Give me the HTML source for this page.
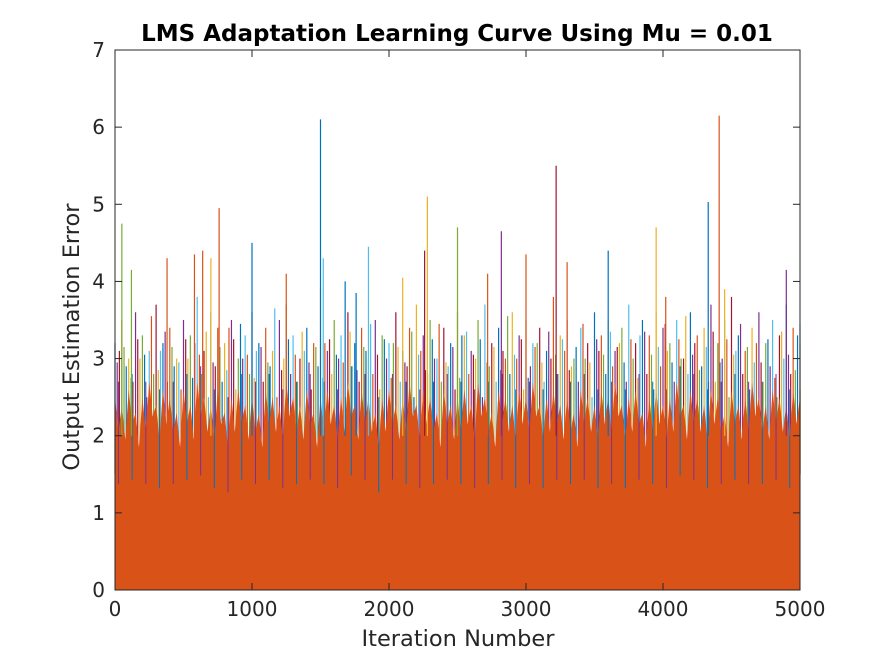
<!DOCTYPE html>
<html><head><meta charset="utf-8"><style>
html,body{margin:0;padding:0;background:#fff;}
svg{display:block;font-family:"DejaVu Sans","Liberation Sans",sans-serif;}
</style></head><body>
<svg id="chart" width="884" height="663" viewBox="0 0 884 663">
<rect x="0" y="0" width="884" height="663" fill="#fff"/>
<rect x="115" y="50" width="685" height="540" fill="#fff"/>
<g id="marks"></g>
<g id="axes"></g>
<text x="457" y="41" text-anchor="middle" font-weight="bold" font-size="23" fill="#000">LMS Adaptation Learning Curve Using Mu = 0.01</text>
<text x="458" y="646" text-anchor="middle" font-size="22.5" fill="#262626">Iteration Number</text>
<text transform="translate(79,337) rotate(-90)" text-anchor="middle" font-size="22.5" fill="#262626">Output Estimation Error</text>
</svg>
<script>
const xTicks=[0,1000,2000,3000,4000,5000];
const yTicks=[0,1,2,3,4,5,6,7];
const baseIter=[0,50,100,150,200,250,300,350,400,450,500,550,600,650,700,750,800,850,900,950,1000,1050,1100,1150,1200,1250,1300,1350,1400,1450,1500,1550,1600,1650,1700,1750,1800,1850,1900,1950,2000,2050,2100,2150,2200,2250,2300,2350,2400,2450,2500,2550,2600,2650,2700,2750,2800,2850,2900,2950,3000,3050,3100,3150,3200,3250,3300,3350,3400,3450,3500,3550,3600,3650,3700,3750,3800,3850,3900,3950,4000,4050,4100,4150,4200,4250,4300,4350,4400,4450,4500,4550,4600,4650,4700,4750,4800,4850,4900,4950,5000];
const baseTop=[2.5,2.4,2.6,2.3,2.5,2.7,2.4,2.6,2.5,2.3,2.6,2.4,2.7,2.5,2.4,2.6,2.3,2.5,2.6,2.4,2.5,2.3,2.6,2.5,2.4,2.7,2.5,2.4,2.6,2.3,2.5,2.6,2.4,2.5,2.7,2.4,2.6,2.5,2.3,2.5,2.6,2.4,2.5,2.7,2.4,2.6,2.5,2.3,2.6,2.4,2.5,2.6,2.4,2.7,2.5,2.3,2.6,2.5,2.4,2.6,2.5,2.7,2.4,2.5,2.6,2.4,2.5,2.3,2.6,2.5,2.4,2.6,2.5,2.7,2.4,2.5,2.6,2.3,2.5,2.6,2.4,2.5,2.7,2.4,2.6,2.5,2.4,2.6,2.5,2.3,2.6,2.4,2.5,2.7,2.5,2.4,2.6,2.5,2.4,2.6,2.5];
const peakTop=[3.2,3.5,3.0,3.6,3.3,3.1,3.7,3.2,3.4,3.0,3.5,3.3,3.8,3.1,3.6,3.4,3.2,3.5,3.0,3.3,3.6,3.2,3.4,3.1,3.5,3.7,3.3,3.0,3.4,3.2,3.9,3.1,3.5,3.3,3.6,3.2,3.4,3.0,3.5,3.3,3.2,3.6,3.1,3.4,3.7,3.3,3.5,3.0,3.4,3.2,3.6,3.3,3.1,3.5,3.7,3.2,3.4,3.0,3.6,3.3,3.5,3.2,3.4,3.1,3.8,3.3,3.5,3.0,3.4,3.2,3.6,3.3,3.5,3.1,3.4,3.7,3.2,3.5,3.3,3.6,3.4,3.2,3.5,3.0,3.6,3.3,3.4,3.7,3.2,3.5,3.8,3.3,3.1,3.4,3.6,3.2,3.5,3.3,3.7,3.4,3.2];
const spikeIter=[50,120,380,580,640,700,760,1000,1250,1500,1520,1680,1760,1850,2100,2260,2280,2500,2720,2820,3000,3220,3300,3600,3950,4020,4330,4410,4450,4900];
const spikeVal=[4.75,4.15,4.3,4.35,4.4,4.3,4.95,4.5,4.1,6.1,4.3,4.0,3.85,4.45,4.05,4.4,5.1,4.7,4.1,4.65,4.35,5.5,4.25,4.4,4.7,3.8,5.03,6.15,3.9,4.15];
const spikeColor=[4,4,1,1,1,2,1,0,1,0,5,0,0,5,2,6,2,4,1,3,1,6,1,0,2,1,0,1,2,3];
const palette=["#0072BD","#D95319","#EDB120","#7E2F8E","#77AC30","#4DBEEE","#A2142F"];

const X0=115,X1=800,Y0=590,Y1=50;
const sx=v=>X0+(v-0)/(5000-0)*(X1-X0);
const sy=v=>Y0-(v-0)/(7-0)*(Y0-Y1);
const NS="http://www.w3.org/2000/svg";
const marks=document.getElementById('marks');
const axes=document.getElementById('axes');
function mk(tag,attrs,parent){const e=document.createElementNS(NS,tag);for(const k in attrs)e.setAttribute(k,attrs[k]);parent.appendChild(e);return e;}

for(let i=0;i<baseIter.length;i++){
  for(let j=0;j<3;j++){
    const it=Math.min(5000,baseIter[i]+j*16);
    const v=peakTop[(i+j*7)%peakTop.length]-j*0.25;
    const l=mk('line',{x1:sx(it),x2:sx(it),y1:sy(1.5),y2:sy(v),stroke:palette[(i+j*3)%7],'stroke-width':1.2},marks);
    
    
  }
}
let d='M'+sx(0)+','+sy(0);
for(let i=0;i<baseIter.length;i++){
  d+=' L'+sx(baseIter[i])+','+sy(baseTop[i]);
  if(i<baseIter.length-1){const mid=(baseIter[i]+baseIter[i+1])/2;d+=' L'+sx(mid)+','+sy(baseTop[i]-0.45);}
}
d+=' L'+sx(5000)+','+sy(0)+' Z';
const band=mk('path',{d:d,fill:'#D95319'},marks);


for(let i=0;i<baseIter.length;i+=2){
  const it=baseIter[i]+25;if(it>5000)continue;
  const l=mk('line',{x1:sx(it),x2:sx(it),y1:sy(baseTop[i]*0.55),y2:sy(baseTop[i]+0.2),stroke:palette[(i/2)%2?0:3],'stroke-width':1},marks);
  
  
}
for(let i=0;i<spikeIter.length;i++){
  const l=mk('line',{x1:sx(spikeIter[i]),x2:sx(spikeIter[i]),y1:sy(2),y2:sy(spikeVal[i]),stroke:palette[spikeColor[i]],'stroke-width':1.2},marks);
  
  
}
const box=mk('rect',{x:X0,y:Y1,width:X1-X0,height:Y0-Y1,fill:'none',stroke:'#262626','stroke-width':1},axes);


xTicks.forEach(t=>{
  const x=sx(t);
  const a=mk('line',{x1:x,x2:x,y1:Y0,y2:Y0-7,stroke:'#262626'},axes);
  
  
  const b=mk('line',{x1:x,x2:x,y1:Y1,y2:Y1+7,stroke:'#262626'},axes);
  
  
  const tx=mk('text',{x:x,y:Y0+26,'text-anchor':'middle','font-size':20,fill:'#262626'},axes);
  tx.textContent=t;
  
  
});
yTicks.forEach(t=>{
  const y=sy(t);
  const a=mk('line',{x1:X0,x2:X0+7,y1:y,y2:y,stroke:'#262626'},axes);
  
  
  const b=mk('line',{x1:X1,x2:X1-7,y1:y,y2:y,stroke:'#262626'},axes);
  
  
  const tx=mk('text',{x:X0-10,y:y+7,'text-anchor':'end','font-size':20,fill:'#262626'},axes);
  tx.textContent=t;
  
  
});
</script>
</body></html>
